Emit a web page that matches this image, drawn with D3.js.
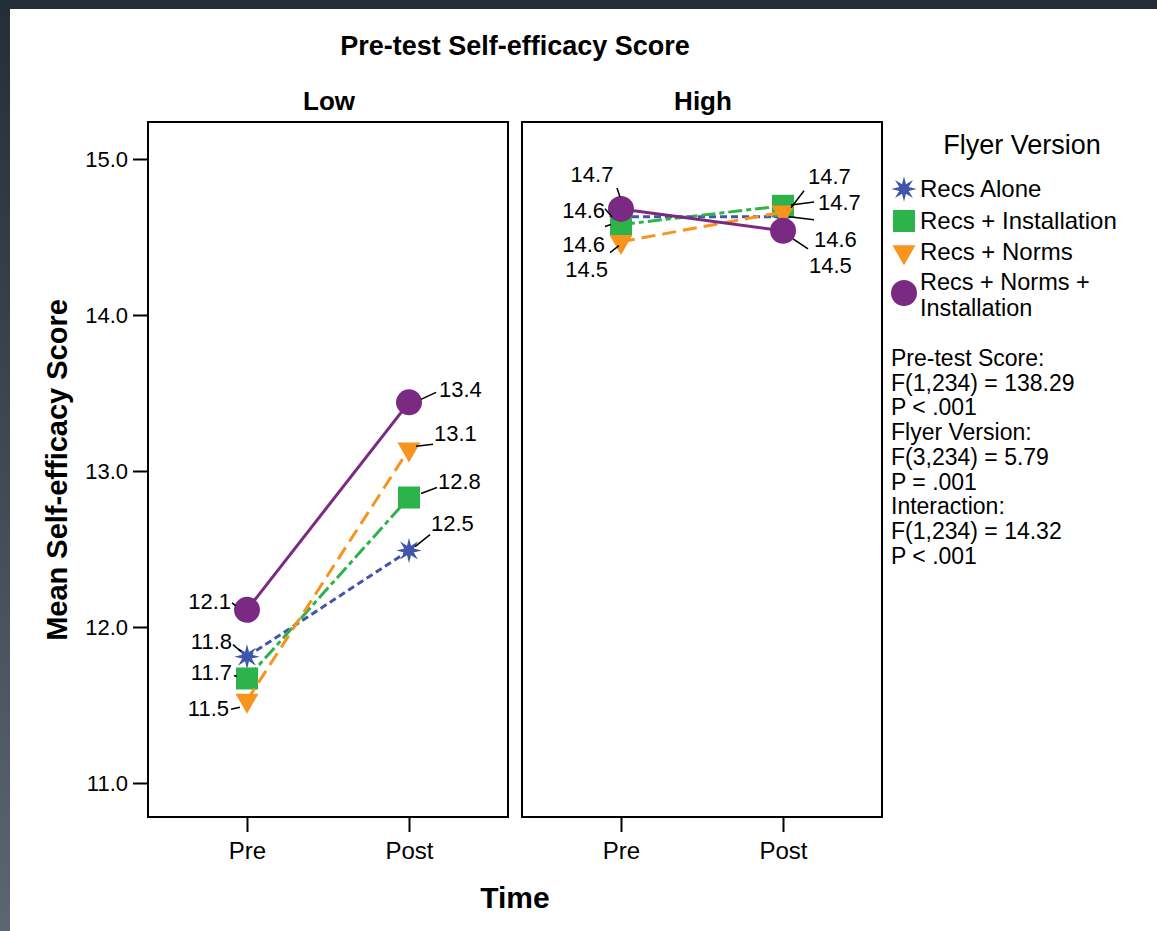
<!DOCTYPE html>
<html>
<head>
<meta charset="utf-8">
<script src="https://cdn.jsdelivr.net/npm/d3@7"></script>
<style>
  body { margin: 0; background: #fff; }
  svg { display: block; font-family: "Liberation Sans", Arial, sans-serif; }
</style>
</head>
<body>
<svg id="chart" width="1157" height="931"></svg>
<script>
// data
var times = ["Pre", "Post"];
var panels = ["Low", "High"];
var versions = ["Recs Alone", "Recs + Installation", "Recs + Norms", "Recs + Norms + Installation"];
var lowPre = [11.81, 11.67, 11.53, 12.11];
var lowPost = [12.49, 12.83, 13.14, 13.44];
var highPre = [14.63, 14.58, 14.47, 14.68];
var highPost = [14.63, 14.70, 14.66, 14.54];
var yTicks = [11, 12, 13, 14, 15];
var statLines = ["Pre-test Score:", "F(1,234) = 138.29", "P < .001",
  "Flyer Version:", "F(3,234) = 5.79", "P = .001",
  "Interaction:", "F(1,234) = 14.32", "P < .001"];

var width = 1157, height = 931;
var plotTop = 122, plotBottom = 817;
var panelX = [148, 522], panelW = 360;

// 8 point burst for "Recs Alone"
var burst = {
  draw: function (ctx, size) {
    var R = Math.sqrt(size) / 2, r = R * 0.4;
    for (var i = 0; i < 16; i++) {
      var a = i * Math.PI / 8 - Math.PI / 2, rad = i % 2 ? r : R;
      if (i) ctx.lineTo(rad * Math.cos(a), rad * Math.sin(a));
      else ctx.moveTo(rad * Math.cos(a), rad * Math.sin(a));
    }
    ctx.closePath();
  }
};

var styles = [
  { color: "#3f56aa", dash: "7,4", symbol: burst, size: 650, rot: 0 },
  { color: "#2db34b", dash: "14,4,5,4", symbol: d3.symbolSquare, size: 484, rot: 0 },
  { color: "#f7941e", dash: "14,7", symbol: d3.symbolTriangle, size: 230, rot: 180 },
  { color: "#7a2a82", dash: null, symbol: d3.symbolCircle, size: 531, rot: 0 }
];

// label placement relative to marker: [dx, dy, anchor, lx1, ly1, lx2, ly2]
var labelPos = {
  Low: {
    Pre: [[-15, -8, "end", -14, -12, -6, -5], [-15, 2, "end", -13, -3, -10, -2],
          [-18, 16, "end", -16, 9, -7, 7], [-16, -1, "end", -15, -7, -11, -4]],
    Post: [[22, -20, "start", 6, -4, 21, -16], [29, -9, "start", 12, -4, 28, -10],
           [25, -8, "start", 7, -3, 24, -5], [30, -5, "start", 12, -3, 27, -10]]
  },
  High: {
    Pre: [[-16, 1, "end", -16, -8, -9, 0], [-16, 27, "end", -16, 2, -10, 0],
          [-13, 35, "end", -11, 11, -2, 4], [-29, -27, "middle", -4, -21, -1, -12]],
    Post: [[31, 30, "start", 6, 0, 31, 3], [25, -22, "start", 8, 2, 21, -15],
           [35, -2, "start", 8, -7, 31, -10], [26, 42, "start", 10, 8, 25, 18]]
  }
};

var values = { Low: { Pre: lowPre, Post: lowPost }, High: { Pre: highPre, Post: highPost } };

var svg = d3.select("#chart");

// dark frame of the screenshot
var defs = svg.append("defs");
var grad = defs.append("linearGradient").attr("id", "side").attr("x1", 0).attr("y1", 0).attr("x2", 0).attr("y2", 1);
grad.append("stop").attr("offset", "0%").attr("stop-color", "#252d36");
grad.append("stop").attr("offset", "100%").attr("stop-color", "#5c6670");
svg.append("rect").attr("width", width).attr("height", height).attr("fill", "#fff");
svg.append("rect").attr("x", 0).attr("y", 0).attr("width", 10).attr("height", height).attr("fill", "url(#side)");
svg.append("rect").attr("x", 0).attr("y", 0).attr("width", width).attr("height", 9).attr("fill", "#252d36");

var y = d3.scaleLinear().domain([11, 15]).range([783, 159]);
var fmt = d3.format(".1f");

svg.append("text").attr("x", 515).attr("y", 55).attr("text-anchor", "middle")
  .attr("font-size", 27).attr("font-weight", "bold").text("Pre-test Self-efficacy Score");

panels.forEach(function (p, pi) {
  var x0 = panelX[pi];
  var x = d3.scalePoint().domain(times).range([x0, x0 + panelW]).padding(0.611);
  var g = svg.append("g");

  g.append("text").attr("x", x0 + panelW / 2 + 1).attr("y", 110).attr("text-anchor", "middle")
    .attr("font-size", 26).attr("font-weight", "bold").text(p);

  g.append("rect").attr("x", x0).attr("y", plotTop).attr("width", panelW).attr("height", plotBottom - plotTop)
    .attr("fill", "none").attr("stroke", "#000").attr("stroke-width", 2);

  var xAxis = g.append("g").attr("transform", "translate(0," + plotBottom + ")")
    .call(d3.axisBottom(x).tickSize(15).tickPadding(10));
  xAxis.select(".domain").remove();
  xAxis.selectAll("line").attr("stroke-width", 2);
  xAxis.selectAll("text").attr("font-size", 24).attr("fill", "#000").style("font-family", "Liberation Sans, Arial, sans-serif");

  if (pi === 0) {
    var yAxis = g.append("g").attr("transform", "translate(" + x0 + ",0)")
      .call(d3.axisLeft(y).tickValues(yTicks).tickFormat(fmt).tickSize(15).tickPadding(5));
    yAxis.select(".domain").remove();
    yAxis.selectAll("line").attr("stroke-width", 2);
    yAxis.selectAll("text").attr("font-size", 22).attr("fill", "#000").style("font-family", "Liberation Sans, Arial, sans-serif");
  }

  versions.forEach(function (v, vi) {
    var st = styles[vi];
    var pts = times.map(function (t) { return { t: t, v: values[p][t][vi] }; });
    g.append("path").datum(pts)
      .attr("d", d3.line().x(function (d) { return x(d.t); }).y(function (d) { return y(d.v); }))
      .attr("fill", "none").attr("stroke", st.color).attr("stroke-width", 3)
      .attr("stroke-dasharray", st.dash);
    g.selectAll(null).data(pts).enter().append("path")
      .attr("d", d3.symbol().type(st.symbol).size(st.size))
      .attr("transform", function (d) { return "translate(" + x(d.t) + "," + y(d.v) + ") rotate(" + st.rot + ")"; })
      .attr("fill", st.color);
  });

  // value labels with leader lines
  versions.forEach(function (v, vi) {
    times.forEach(function (t) {
      var cx = x(t), cy = y(values[p][t][vi]), L = labelPos[p][t][vi];
      g.append("line").attr("x1", cx + L[3]).attr("y1", cy + L[4]).attr("x2", cx + L[5]).attr("y2", cy + L[6])
        .attr("stroke", "#000").attr("stroke-width", 1.5);
      g.append("text").attr("x", cx + L[0]).attr("y", cy + L[1]).attr("text-anchor", L[2])
        .attr("font-size", 22).text(fmt(values[p][t][vi]));
    });
  });
});

svg.append("text").attr("transform", "translate(67,470) rotate(-90)").attr("text-anchor", "middle")
  .attr("font-size", 29).attr("font-weight", "bold").text("Mean Self-efficacy Score");
svg.append("text").attr("x", 515).attr("y", 908).attr("text-anchor", "middle")
  .attr("font-size", 30).attr("font-weight", "bold").text("Time");

// legend
var legend = svg.append("g");
legend.append("text").attr("x", 1022).attr("y", 154).attr("text-anchor", "middle")
  .attr("font-size", 27).text("Flyer Version");
var legendY = [189, 221, 252, 293];
versions.forEach(function (v, vi) {
  var st = styles[vi];
  legend.append("path").attr("d", d3.symbol().type(st.symbol).size(st.size))
    .attr("transform", "translate(904," + legendY[vi] + ") rotate(" + st.rot + ")")
    .attr("fill", st.color);
  if (vi === 3) {
    legend.append("text").attr("x", 920).attr("y", 290).attr("font-size", 23.5).text("Recs + Norms +");
    legend.append("text").attr("x", 920).attr("y", 316).attr("font-size", 23.5).text("Installation");
  } else {
    legend.append("text").attr("x", 920).attr("y", legendY[vi] + 8).attr("font-size", 24).text(v);
  }
});

legend.selectAll("text.stat").data(statLines).enter().append("text")
  .attr("class", "stat").attr("x", 891).attr("y", function (d, i) { return 366 + i * 24.7; })
  .attr("font-size", 23).text(function (d) { return d; });
</script>
</body>
</html>
